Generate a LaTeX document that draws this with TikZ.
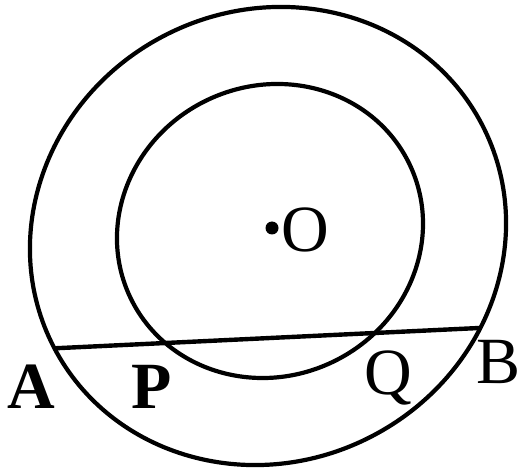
\documentclass[tikz,border=0pt]{standalone}
\usepackage{fontspec}
\setmainfont{Liberation Serif}
\usetikzlibrary{intersections}
\tikzset{
  ring/.style={line width=4.2pt},
  chord/.style={line width=4.4pt},
  lbl/.style={font=\fontsize{66}{66}\selectfont, inner sep=0pt, anchor=base},
  dot/.style={circle, fill=black, inner sep=0pt, minimum size=13pt}
}
\begin{document}
\begin{tikzpicture}[x=1pt,y=-1pt]
  \useasboundingbox (0,0) rectangle (522,470);

  % Centros de las dos circunferencias
  \coordinate (C1) at (268,236);
  \coordinate (C2) at (270,231);

  % Circunferencia exterior
  \draw[ring, name path=outer, rotate around={27.5:(C1)}] (C1) ellipse [x radius=241.3pt, y radius=225.6pt];

  % Circunferencia interior
  \draw[ring, name path=inner, rotate around={25.4:(C2)}] (C2) ellipse [x radius=154.7pt, y radius=145.2pt];

  % Cuerda AB
  \path[name path=chordline] (40,349) -- (500,327);
  \path[name intersections={of=outer and chordline, sort by=chordline, by={A,B}}];
  \draw[chord] (A) -- (B);

  % Centro O
  \node[dot] (O) at (272,228) {};
  \node[lbl, anchor=base west] (labO) at (281,252) {O};

  % Etiquetas
  \node[lbl] (labA) at (31,408) {\textbf{A}};
  \node[lbl] (labP) at (152,408) {\textbf{P}};
  \node[lbl] (labQ) at (388,394) {Q};
  \node[lbl, anchor=base east] (labB) at (521,383) {B};
\end{tikzpicture}
\end{document}
